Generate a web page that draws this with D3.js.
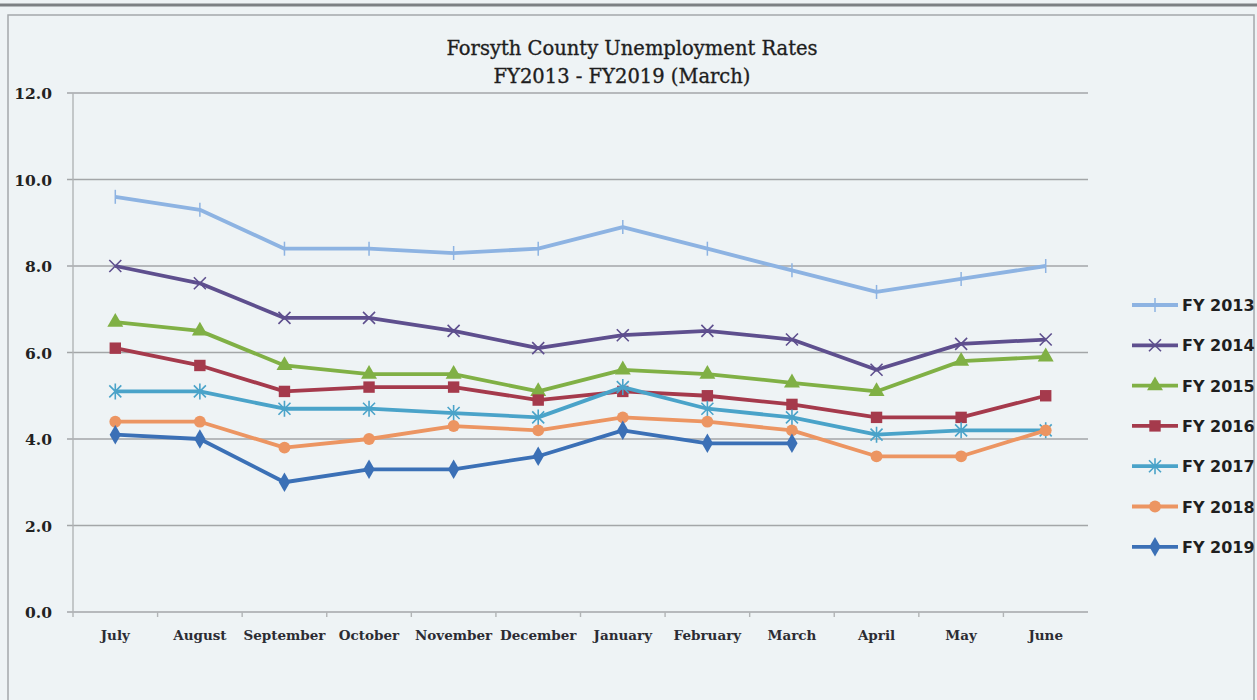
<!DOCTYPE html>
<html>
  <head>
    <meta charset="UTF-8">
    <title>Forsyth County Unemployment Rates</title>
    <script src="https://cdn.jsdelivr.net/npm/d3@7"></script>
    <style>
      body { margin: 0; background: #eef3f5; }
      svg { display: block; }
    </style>
  </head>
  <body>
    <svg width="1257" height="700"></svg>
  </body>
  <script>

    // months of the fiscal year, July first
    var months = ["July", "August", "September", "October", "November", "December",
                  "January", "February", "March", "April", "May", "June"];

    var yTicks = [0, 2, 4, 6, 8, 10, 12];

    // one array per fiscal year (FY2019 stops at March)
    var fy2013 = [9.6, 9.3, 8.4, 8.4, 8.3, 8.4, 8.9, 8.4, 7.9, 7.4, 7.7, 8.0];
    var fy2014 = [8.0, 7.6, 6.8, 6.8, 6.5, 6.1, 6.4, 6.5, 6.3, 5.6, 6.2, 6.3];
    var fy2015 = [6.7, 6.5, 5.7, 5.5, 5.5, 5.1, 5.6, 5.5, 5.3, 5.1, 5.8, 5.9];
    var fy2016 = [6.1, 5.7, 5.1, 5.2, 5.2, 4.9, 5.1, 5.0, 4.8, 4.5, 4.5, 5.0];
    var fy2017 = [5.1, 5.1, 4.7, 4.7, 4.6, 4.5, 5.2, 4.7, 4.5, 4.1, 4.2, 4.2];
    var fy2018 = [4.4, 4.4, 3.8, 4.0, 4.3, 4.2, 4.5, 4.4, 4.2, 3.6, 3.6, 4.2];
    var fy2019 = [4.1, 4.0, 3.0, 3.3, 3.3, 3.6, 4.2, 3.9, 3.9];

    var series = [
      {name: "FY 2013", values: fy2013, color: "#8db3e2", marker: "dash"},
      {name: "FY 2014", values: fy2014, color: "#5e4f8e", marker: "x"},
      {name: "FY 2015", values: fy2015, color: "#80b045", marker: "triangle"},
      {name: "FY 2016", values: fy2016, color: "#a53a4c", marker: "square"},
      {name: "FY 2017", values: fy2017, color: "#4aa3c9", marker: "star"},
      {name: "FY 2018", values: fy2018, color: "#ec9562", marker: "circle"},
      {name: "FY 2019", values: fy2019, color: "#3b70b6", marker: "diamond"}
    ];

    var svg = d3.select("svg");

    // page frame of the scan
    svg.append("rect").attr("width", 1257).attr("height", 700).attr("fill", "#eef3f5");
    svg.append("line").attr("x1", 0).attr("x2", 1257).attr("y1", 5).attr("y2", 5)
      .attr("stroke", "#7d8184").attr("stroke-width", 3);
    svg.append("rect").attr("x", 8).attr("y", 15).attr("width", 1246).attr("height", 700)
      .attr("fill", "none").attr("stroke", "#a4a8ab").attr("stroke-width", 1.5);

    var x = d3.scaleBand().domain(months).range([73, 1088]);
    var y = d3.scaleLinear().domain([0, 12]).range([612, 93]);

    // gridlines
    var g = svg.append("g");
    g.selectAll(".grid").data(yTicks).enter().append("line")
      .attr("x1", 67).attr("x2", 1088)
      .attr("y1", function(d) { return y(d); })
      .attr("y2", function(d) { return y(d); })
      .attr("stroke", "#a3a6a8").attr("stroke-width", 1.6);

    g.append("line").attr("x1", 73).attr("x2", 73).attr("y1", y(12)).attr("y2", y(0) + 5)
      .attr("stroke", "#b1b4b6").attr("stroke-width", 1.4);

    // tick marks between months
    g.selectAll(".xtick").data(months.slice(1)).enter().append("line")
      .attr("x1", function(d) { return x(d); })
      .attr("x2", function(d) { return x(d); })
      .attr("y1", y(0)).attr("y2", y(0) + 5)
      .attr("stroke", "#b1b4b6").attr("stroke-width", 1.4);

    g.selectAll(".ylab").data(yTicks).enter().append("text")
      .attr("x", 52).attr("y", function(d) { return y(d) + 6; })
      .attr("text-anchor", "end")
      .attr("font-family", "DejaVu Serif").attr("font-weight", "bold").attr("font-size", 15.5)
      .attr("fill", "#222")
      .text(function(d) { return d.toFixed(1); });

    g.selectAll(".xlab").data(months).enter().append("text")
      .attr("x", function(d) { return x(d) + x.bandwidth() / 2; })
      .attr("y", 640)
      .attr("text-anchor", "middle")
      .attr("font-family", "DejaVu Serif").attr("font-weight", "bold").attr("font-size", 13.5)
      .attr("fill", "#2c2c33")
      .text(function(d) { return d; });

    // title
    var title = svg.append("text").attr("text-anchor", "middle")
      .attr("font-family", "DejaVu Serif").attr("font-size", 19.5).attr("fill", "#1e1e1e")
      .attr("stroke", "#1e1e1e").attr("stroke-width", 0.35);
    title.append("tspan").attr("x", 632).attr("y", 55).text("Forsyth County Unemployment Rates");
    title.append("tspan").attr("x", 622).attr("y", 83).text("FY2013 - FY2019 (March)");

    function drawMarker(sel, type, color) {
      if (type === "dash") {
        sel.append("line").attr("x1", 0).attr("x2", 0).attr("y1", -7).attr("y2", 7)
          .attr("stroke", color).attr("stroke-width", 1.5);
      } else if (type === "x") {
        sel.append("path").attr("d", "M-6,-6L6,6M-6,6L6,-6")
          .attr("stroke", color).attr("stroke-width", 1.6);
      } else if (type === "star") {
        sel.append("path").attr("d", "M-6,-6L6,6M-6,6L6,-6M0,-8L0,8")
          .attr("stroke", color).attr("stroke-width", 1.6);
      } else {
        var sym = {triangle: d3.symbolTriangle, square: d3.symbolSquare,
                   circle: d3.symbolCircle, diamond: d3.symbolDiamond}[type];
        var size = {triangle: 110, square: 130, circle: 110, diamond: 110}[type];
        sel.append("path").attr("d", d3.symbol().type(sym).size(size)())
          .attr("fill", color);
      }
    }

    var line = d3.line()
      .x(function(d, i) { return x(months[i]) + x.bandwidth() / 2; })
      .y(function(d) { return y(d); });

    series.forEach(function(s) {
      var sg = svg.append("g");
      sg.append("path").attr("d", line(s.values))
        .attr("fill", "none").attr("stroke", s.color).attr("stroke-width", 3.8)
        .attr("stroke-linejoin", "round");
      s.values.forEach(function(v, i) {
        var m = sg.append("g").attr("transform",
          "translate(" + (x(months[i]) + x.bandwidth() / 2) + "," + y(v) + ")");
        drawMarker(m, s.marker, s.color);
      });
    });

    // legend
    var legend = svg.append("g");
    series.forEach(function(s, i) {
      var ly = 305 + i * 40.3;
      legend.append("line").attr("x1", 1132).attr("x2", 1178).attr("y1", ly).attr("y2", ly)
        .attr("stroke", s.color).attr("stroke-width", 3.8);
      drawMarker(legend.append("g").attr("transform", "translate(1155," + ly + ")"), s.marker, s.color);
      legend.append("text").attr("x", 1182).attr("y", ly + 6)
        .attr("font-family", "DejaVu Sans").attr("font-weight", "bold").attr("font-size", 16)
        .attr("fill", "#1f1f1f").text(s.name);
    });

  </script>
</html>
